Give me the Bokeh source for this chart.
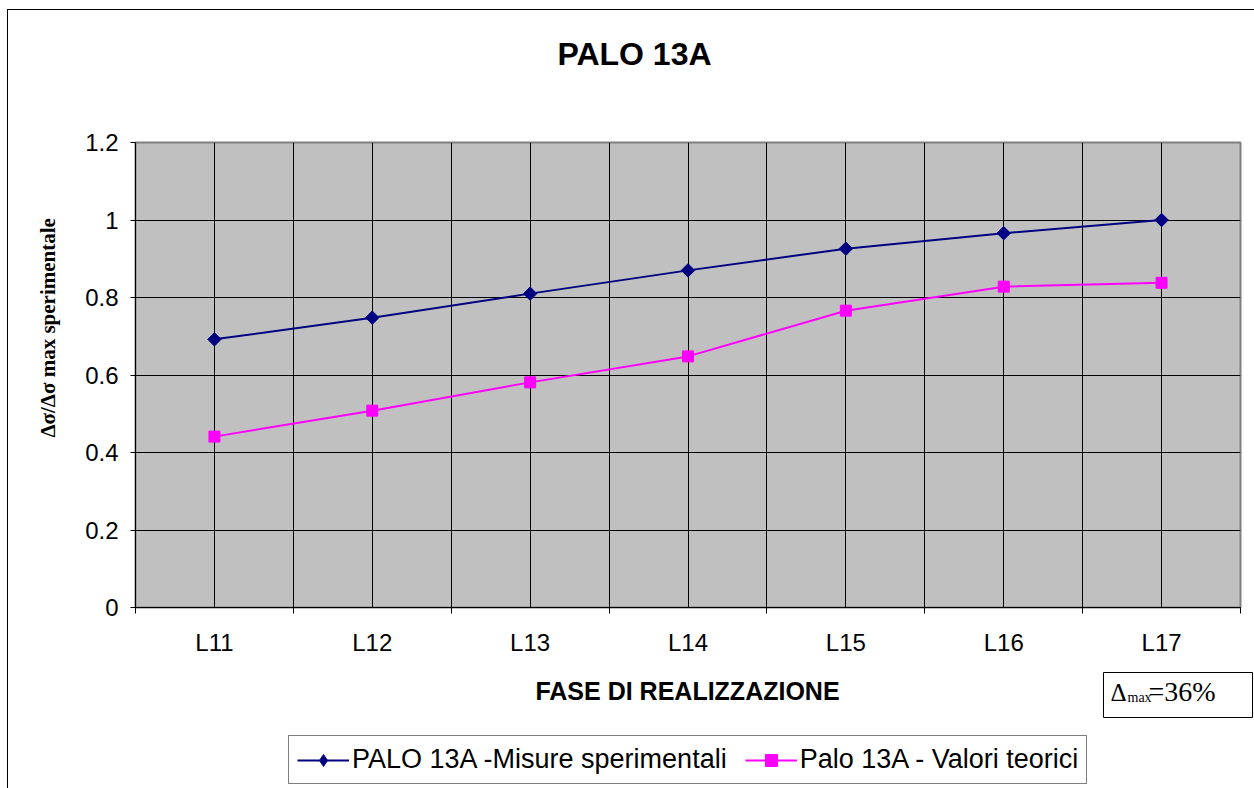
import math
from bokeh.plotting import figure
from bokeh.layouts import column, row
from bokeh.models import (Range1d, FixedTicker, CustomJSTickFormatter, Legend,
                          LegendItem, Label, BoxAnnotation, ColumnDataSource)
from bokeh.embed import file_html
from bokeh.resources import INLINE

# ---- data ----
phases = ["L11", "L12", "L13", "L14", "L15", "L16", "L17"]
misure = [0.692, 0.748, 0.810, 0.870, 0.926, 0.966, 1.0]
teorici = [0.441, 0.508, 0.581, 0.648, 0.766, 0.828, 0.838]
y_ticks = [0, 0.2, 0.4, 0.6, 0.8, 1.0, 1.2]
title_text = "PALO 13A"
x_label = "FASE DI REALIZZAZIONE"
y_label = "\u0394\u03c3/\u0394\u03c3 max sperimentale"
series_names = ["PALO 13A -Misure sperimentali", "Palo 13A - Valori teorici"]
delta_parts = ["\u0394", "max", "=36%"]

NAVY = "#000080"
MAGENTA = "#FF00FF"

xpos = list(range(1, len(phases) + 1))
bounds = [i + 0.5 for i in range(0, len(phases) + 1)]
src = ColumnDataSource(dict(x=xpos, m=misure, t=teorici))


def blank_fig(w, h, xr, yr):
    f = figure(width=w, height=h, x_range=Range1d(*xr), y_range=Range1d(*yr),
               x_axis_type=None, y_axis_type=None, output_backend="svg",
               toolbar_location=None, min_border=0)
    f.outline_line_color = None
    f.background_fill_alpha = 0
    f.border_fill_alpha = 0
    f.xgrid.visible = False
    f.ygrid.visible = False
    return f


# ---------------- top strip: title ----------------
top = blank_fig(1254, 120, (0, 1254), (120, 0))
top.add_layout(Label(x=634, y=53, text=title_text, text_align="center",
                     text_baseline="alphabetic", text_font="Liberation Sans",
                     text_font_style="bold", text_font_size="32px", text_color="black"))

# ---------------- left strip: y axis title ----------------
left = blank_fig(75, 550, (0, 75), (670, 120))
left.add_layout(Label(x=47, y=469, text=y_label, angle=math.pi / 2, text_align="left",
                      text_baseline="alphabetic", text_font="Liberation Serif",
                      text_font_style="bold", text_font_size="21px", text_color="black"))

# ---------------- main chart ----------------
fig = figure(width=1179, height=550, output_backend="svg", toolbar_location=None,
             x_range=Range1d(0.5, len(phases) + 0.5), y_range=Range1d(0, 1.2),
             min_border_left=60, min_border_right=14, min_border_top=22,
             min_border_bottom=63)
fig.background_fill_color = "#C0C0C0"
fig.border_fill_alpha = 0
fig.outline_line_color = "#808080"
fig.outline_line_width = 2

fig.xgrid.ticker = FixedTicker(ticks=sorted(xpos + bounds))
fig.xgrid.grid_line_color = "black"
fig.ygrid.ticker = FixedTicker(ticks=y_ticks)
fig.ygrid.grid_line_color = "black"

xa = fig.xaxis[0]
xa.ticker = FixedTicker(ticks=xpos, minor_ticks=bounds)
xa.formatter = CustomJSTickFormatter(args=dict(labels=phases),
                                     code="return labels[Math.round(tick) - 1];")
xa.major_tick_out = 0
xa.major_tick_in = 0
xa.minor_tick_out = 6
xa.minor_tick_in = 0
xa.minor_tick_line_color = "black"
xa.axis_line_color = "black"
xa.major_label_text_font = "Liberation Sans"
xa.major_label_text_font_size = "24px"
xa.major_label_text_color = "black"
xa.major_label_standoff = 15

ya = fig.yaxis[0]
ya.ticker = FixedTicker(ticks=y_ticks, minor_ticks=[])
ya.formatter = CustomJSTickFormatter(code="return String(Math.round(tick * 10) / 10);")
ya.major_tick_out = 5
ya.major_tick_in = 0
ya.major_tick_line_color = "black"
ya.axis_line_color = "black"
ya.major_label_text_font = "Liberation Sans"
ya.major_label_text_font_size = "24px"
ya.major_label_text_color = "black"
ya.major_label_standoff = 12


def draw_series(f, col, color, marker_kw):
    ln = f.line("x", col, source=src, line_color=color, line_width=2)
    sc = f.scatter("x", col, source=src, fill_color=color, line_color=color, **marker_kw)
    return ln, sc


draw_series(fig, "m", NAVY, dict(marker="square", angle=math.pi / 4, size=9.5))
draw_series(fig, "t", MAGENTA, dict(marker="square", size=11))

# ---------------- bottom strip: x title, delta box, legend ----------------
bottom = blank_fig(1254, 118, (0, 1254), (788, 670))
bottom.add_layout(Label(x=687, y=690, text=x_label, text_align="center",
                        text_baseline="alphabetic", text_font="Liberation Sans",
                        text_font_style="bold", text_font_size="25px", text_color="black"))

bottom.add_layout(BoxAnnotation(left=1103, right=1252, top=672, bottom=717,
                                fill_color="white", fill_alpha=1,
                                line_color="black", line_alpha=1, line_width=1))
for xx, yy, part, size in zip([1110, 1127, 1148], [692, 697, 691], delta_parts,
                              ["25px", "14px", "28px"]):
    bottom.add_layout(Label(x=xx, y=yy, text=part, text_align="left",
                            text_baseline="alphabetic", text_font="Liberation Serif",
                            text_font_size=size, text_color="black"))

# legend glyph renderers (same data, outside this strip's visible range)
g1 = draw_series(bottom, "m", NAVY, dict(marker="diamond", size=14))
g2 = draw_series(bottom, "t", MAGENTA, dict(marker="square", size=11))

legend = Legend(items=[LegendItem(label=series_names[0], renderers=list(g1)),
                       LegendItem(label=series_names[1], renderers=list(g2))],
                orientation="horizontal", location=(288, 4), margin=0,
                padding=8, spacing=18, label_standoff=3, glyph_width=52,
                glyph_height=30, label_height=30, label_text_font="Liberation Sans",
                label_text_font_size="27px", label_text_color="black",
                border_line_color="black", border_line_width=1,
                background_fill_color="white", background_fill_alpha=1)
bottom.add_layout(legend, "center")

frame_lines = ("linear-gradient(black, black) 7px 9px / 1px 900px no-repeat, "
               "linear-gradient(black, black) 7px 9px / 1400px 1px no-repeat, white")

p = column(top, row(left, fig, spacing=0), bottom, spacing=0,
           styles={"background": frame_lines})

open("out.html", "w").write(file_html(p, INLINE))
